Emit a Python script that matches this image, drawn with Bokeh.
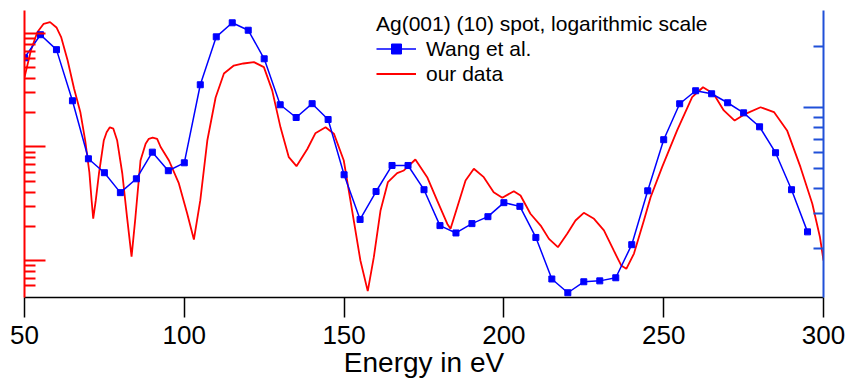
from bokeh.plotting import figure
from bokeh.models import (Range1d, LogAxis, LogScale, FixedTicker, Legend, LegendItem)
from bokeh.embed import file_html
from bokeh.resources import INLINE

# ---- data ----
energy_wang = [50, 55, 60, 65, 70, 75, 80, 85, 90, 95, 100, 105, 110, 115, 120, 125,
               130, 135, 140, 145, 150, 155, 160, 165, 170, 175, 180, 185, 190, 195,
               200, 205, 210, 215, 220, 225, 230, 235, 240, 245, 250, 255, 260, 265,
               270, 275, 280, 285, 290, 295]
intensity_wang = [1.768, 2.30, 1.94, 1.083, 0.559, 0.477, 0.380, 0.445, 0.603, 0.488,
                  0.534, 1.30, 2.245, 2.635, 2.42, 1.748, 1.035, 0.895, 1.048, 0.875,
                  0.466, 0.280, 0.385, 0.518, 0.518, 0.393, 0.261, 0.240, 0.267, 0.289,
                  0.339, 0.325, 0.228, 0.142, 0.1214, 0.1376, 0.139, 0.144, 0.210, 0.388,
                  0.695, 1.047, 1.214, 1.173, 1.059, 0.944, 0.805, 0.599, 0.393, 0.243]

energy_ours = [50, 52, 54, 56, 58, 60, 61.5, 63.5, 65.5, 67.5, 69, 70.3, 71, 71.5, 72.3,
               73.3, 74.8, 75.7, 76.7, 77.8, 79, 80.6, 82.1, 83.5, 84.7, 86.3, 87.9,
               88.9, 90.1, 91.5, 92.6, 95.2, 98.3, 100.9, 103, 105, 107.2, 109.8,
               112.4, 115.5, 118.5, 121.8, 124.9, 127.5, 130.1, 132.7, 135.1, 138.5,
               141, 144.2, 146.8, 149.9, 152.5, 155.1, 157.4, 159.3, 161.4, 163.7,
               166.6, 168.7, 172.3, 176, 179.1, 182.3, 183.3, 185.4, 188, 190.6,
               193.7, 196.8, 199.5, 203.1, 205.2, 208.3, 211.5, 214.1, 216.9, 219.8,
               222.4, 225, 228.2, 231.3, 234.4, 236.7, 238.3, 240.7, 243.8, 245.9,
               249.5, 254.2, 258.9, 262.3, 265.6, 268.8, 272.2, 275.6, 280.3, 284.5,
               288.6, 292.8, 296.5, 298.9, 300]
intensity_ours = [41.2, 70.8, 102.6, 121.7, 125.8, 113, 92.2, 57.8, 32.8, 20.1, 11.4, 5.96,
                  3.38, 2.34, 3.38, 5.84, 11.4, 13.5, 14.9, 14.5, 11.4, 5.84, 2.39, 1.08,
                  2.39, 7.6, 10.7, 11.8, 12.1, 11.8, 10.0, 7.6, 4.77, 2.59, 1.53, 3.38,
                  11.4, 27.3, 44.4, 52.2, 54.4, 55.9, 50.5, 31.5, 14.9, 8.13, 6.78, 9.6,
                  13.2, 14.9, 13.1, 7.6, 2.76, 1.0, 0.537, 1.07, 2.76, 4.9, 5.88, 6.21,
                  7.76, 5.42, 3.38, 2.1, 1.9, 2.95, 5.07, 6.43, 5.42, 4.0, 3.57, 4.08,
                  3.74, 2.58, 2.03, 1.55, 1.31, 1.72, 2.25, 2.63, 2.33, 1.84, 1.22, 0.904,
                  0.845, 1.15, 2.25, 3.61, 6.64, 14.0, 27.5, 33.6, 29.4, 21.0, 17.1, 19.6,
                  22.4, 20.3, 14.0, 6.64, 3.16, 1.6, 1.0]

x_ticks = [50, 100, 150, 200, 250, 300]
red_major = [1, 10, 100]
red_minor = [0.6, 0.7, 0.8, 0.9, 2, 3, 4, 5, 6, 7, 8, 9, 20, 30, 40, 50, 60, 70, 80, 90]
blue_major = [1]
blue_minor = [0.2, 0.3, 0.4, 0.5, 0.6, 0.7, 0.8, 0.9, 2]

RED = "#ff0000"
BLUE = "#0000ff"
AXBLUE = "#2050d8"
FONT = "Liberation Sans"

p = figure(width=849, height=382, output_backend="svg", toolbar_location=None,
           x_range=Range1d(50, 300), y_range=Range1d(0.472, 159.4),
           y_axis_type="log",
           min_border_left=24, min_border_right=26, min_border_top=10,
           min_border_bottom=85, outline_line_color=None)
p.extra_y_ranges = {"blue": Range1d(0.115, 3.031)}
p.extra_y_scales = {"blue": LogScale()}
p.xgrid.visible = False
p.ygrid.visible = False

# x axis
xa = p.xaxis[0]
xa.ticker = FixedTicker(ticks=x_ticks, minor_ticks=[])
xa.major_tick_out = 20
xa.major_tick_in = 0
xa.minor_tick_out = 0
xa.minor_tick_in = 0
xa.axis_line_width = 1.5
xa.major_tick_line_width = 1.5
xa.axis_line_color = "black"
xa.major_tick_line_color = "black"
xa.major_label_text_font = FONT
xa.major_label_text_font_size = "26px"
xa.major_label_text_color = "black"
xa.major_label_standoff = 8
xa.axis_label = "Energy in eV"
xa.axis_label_text_font = FONT
xa.axis_label_text_font_size = "28px"
xa.axis_label_text_font_style = "normal"
xa.axis_label_text_color = "black"
xa.axis_label_standoff = 0


def style_log_axis(ax, color, major_in, minor_in):
    ax.axis_line_color = color
    ax.axis_line_width = 2
    ax.major_tick_line_color = color
    ax.minor_tick_line_color = color
    ax.major_tick_line_width = 2
    ax.minor_tick_line_width = 2
    ax.major_tick_in = major_in
    ax.major_tick_out = 0
    ax.minor_tick_in = minor_in
    ax.minor_tick_out = 0
    ax.major_label_text_font_size = "1px"
    ax.major_label_text_alpha = 0
    ax.major_label_standoff = 0


# left (red) log axis
la = p.yaxis[0]
la.ticker = FixedTicker(ticks=red_major, minor_ticks=red_minor)
style_log_axis(la, RED, 21, 11)

# right (blue) log axis
ra = LogAxis(y_range_name="blue",
             ticker=FixedTicker(ticks=blue_major, minor_ticks=blue_minor))
style_log_axis(ra, AXBLUE, 20, 10)
p.add_layout(ra, "right")

# series
r_red = p.line(energy_ours, intensity_ours, line_color=RED, line_width=1.8)
r_bl = p.line(energy_wang, intensity_wang, y_range_name="blue", line_color=BLUE, line_width=1.5)
r_bp = p.scatter(energy_wang, intensity_wang, y_range_name="blue", marker="square",
                 size=6, fill_color=BLUE, line_color=BLUE)

legend = Legend(items=[LegendItem(label="Wang et al.", renderers=[r_bl, r_bp]),
                       LegendItem(label="our data", renderers=[r_red])],
                location=(352, 211), title="Ag(001) (10) spot, logarithmic scale",
                title_text_font=FONT, title_text_font_size="21px",
                title_text_font_style="normal", title_text_color="black",
                title_standoff=0,
                label_text_font=FONT, label_text_font_size="21px", label_text_color="black",
                glyph_width=40, glyph_height=25, label_height=25, label_standoff=10,
                padding=0, spacing=0, margin=0, border_line_color=None,
                background_fill_alpha=0)
p.add_layout(legend)

open("out.html", "w").write(file_html(p, INLINE))
